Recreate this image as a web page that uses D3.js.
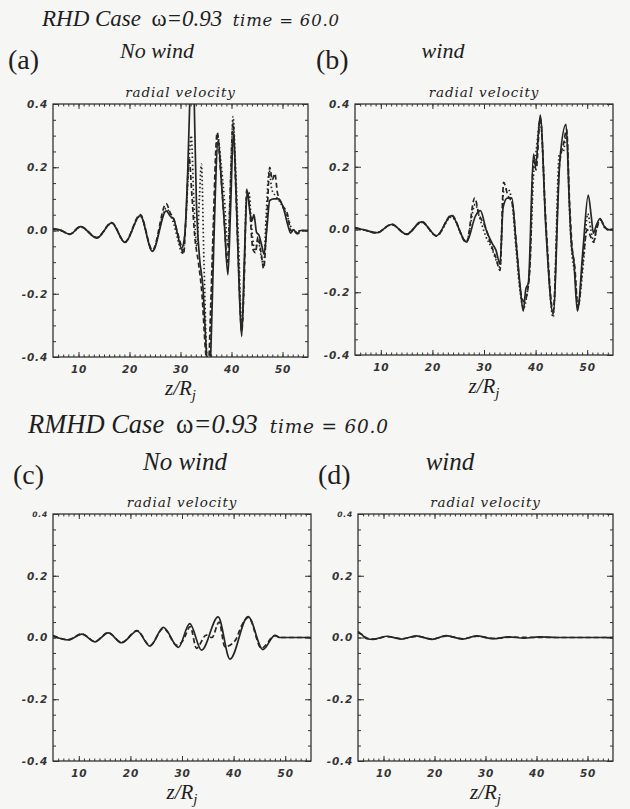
<!DOCTYPE html>
<html>
<head>
<meta charset="utf-8">
<script src="https://cdn.jsdelivr.net/npm/d3@7"></script>
<style>
  body { margin: 0; background: #f6f6f4; }
  svg { display: block; }
  .tick text { font-family: "DejaVu Sans"; font-weight: bold; font-style: oblique; font-size: 10.5px; fill: #333; letter-spacing: 0.8px; }
  .serif { font-family: "Liberation Serif"; font-style: italic; fill: #1e1e1e; }
</style>
</head>
<body>
<div id="chart"></div>
<script>
// axis ticks
const zTicks = [10, 20, 30, 40, 50];
const vTicks = [-0.4, -0.2, 0.0, 0.2, 0.4];
const vLabels = ["-0.4", "-0.2", "0.0", "0.2", "0.4"];

// (a) RHD, no wind : [z, radial velocity]
const solidA = [[5,0.005],[6.5,0.001],[8.3,-0.012],[10.4,0.012],[13.6,-0.024],[16.5,0.024],[19.1,-0.038],[22.1,0.047],[24.5,-0.066],[27.2,0.062],[28.0,0.045],[28.7,0.035],[29.4,-0.01],[30.2,-0.056],[30.8,-0.02],[31.4,0.18],[31.9,0.45],[32.3,0.6],[32.7,0.4],[33.1,0.1],[33.7,-0.08],[34.4,-0.18],[35.0,-0.36],[35.6,-0.5],[36.1,-0.3],[36.5,-0.06],[37.4,0.285],[38.0,0.16],[38.6,0.02],[39.3,-0.14],[39.8,0.06],[40.4,0.31],[40.9,0.12],[41.5,-0.18],[42.0,-0.335],[42.5,-0.1],[43.1,0.125],[43.6,0.06],[44.0,0.03],[44.4,0.05],[44.9,-0.005],[45.4,-0.015],[45.9,-0.045],[46.4,-0.075],[46.9,0.0],[47.5,0.095],[48.3,0.1],[49.2,0.1],[50.2,0.07],[51.0,0.02],[51.6,-0.008],[52.2,0.003],[52.8,-0.01],[53.6,0.0],[55,0.0]];
const dashedA = [[5,0.006],[6.5,0.0],[8.3,-0.011],[10.4,0.013],[13.6,-0.022],[16.5,0.025],[19.1,-0.036],[22.1,0.05],[24.5,-0.062],[27.2,0.085],[28.0,0.055],[28.6,0.04],[29.3,0.0],[30.0,-0.04],[30.6,-0.075],[31.1,0.05],[31.7,0.23],[32.2,0.12],[32.8,-0.02],[33.5,-0.1],[34.2,-0.2],[34.9,-0.38],[35.4,-0.45],[35.9,-0.25],[36.3,-0.05],[37.2,0.31],[37.8,0.2],[38.5,0.05],[39.2,-0.1],[39.7,0.1],[40.3,0.34],[40.8,0.15],[41.4,-0.12],[42.0,-0.32],[42.5,-0.15],[43.0,0.13],[43.5,0.08],[44.2,-0.06],[44.7,-0.07],[45.2,-0.02],[45.8,-0.07],[46.3,-0.12],[46.9,0.02],[47.5,0.2],[48.0,0.16],[48.5,0.18],[49.0,0.12],[50.0,0.08],[51.0,0.05],[51.6,0.0],[52.3,0.0],[53.0,-0.01],[53.8,0.0],[55,0.0]];
const dotA = [[5,0.004],[6.5,0.0],[8.3,-0.012],[10.4,0.011],[13.6,-0.023],[16.5,0.023],[19.1,-0.037],[22.1,0.046],[24.5,-0.064],[27.2,0.07],[28.0,0.05],[28.7,0.02],[29.5,-0.03],[30.3,-0.07],[31.0,0.02],[31.6,0.2],[32.1,0.3],[32.6,0.1],[33.2,-0.05],[33.7,0.1],[34.1,0.21],[34.6,-0.1],[35.2,-0.4],[35.7,-0.42],[36.2,-0.15],[36.6,0.05],[37.3,0.3],[37.9,0.22],[38.6,0.1],[39.3,-0.05],[39.9,0.2],[40.3,0.36],[40.8,0.2],[41.4,-0.05],[42.0,-0.3],[42.4,-0.2],[42.9,0.1],[43.4,0.12],[44.0,0.0],[44.6,-0.065],[45.2,-0.03],[45.8,-0.08],[46.3,-0.11],[46.8,0.05],[47.4,0.19],[47.9,0.13],[48.6,0.11],[49.5,0.09],[50.5,0.06],[51.3,0.03],[51.9,0.0],[52.6,-0.005],[53.5,0.0],[55,0.0]];

// (b) RHD, wind
const solidB = [[5,0.005],[6.5,0.0],[9.2,-0.01],[12.1,0.016],[15,-0.015],[17.9,0.024],[20.8,-0.02],[23.7,0.044],[26.6,-0.04],[28.4,0.045],[29.3,0.06],[30.4,0.0],[31.6,-0.045],[32.3,-0.065],[33.1,-0.11],[33.7,0.07],[34.5,0.1],[35.4,0.1],[36.2,-0.04],[37.0,-0.18],[37.6,-0.26],[38.1,-0.19],[38.6,-0.17],[39.6,0.24],[40.0,0.2],[40.9,0.365],[42.0,0.0],[43.4,-0.27],[44.7,0.22],[45.9,0.335],[46.5,0.1],[46.9,-0.04],[47.4,-0.1],[48.1,-0.26],[49.2,-0.06],[50.2,0.11],[50.8,0.04],[51.2,-0.012],[51.8,0.015],[52.5,0.035],[53.3,0.01],[54.0,0.0],[55,0.0]];
const dashedB = [[5,0.006],[6.5,0.0],[9.2,-0.011],[12.1,0.017],[15,-0.016],[17.9,0.026],[20.8,-0.021],[23.7,0.046],[26.6,-0.042],[28.2,0.1],[29.0,0.05],[30.2,0.01],[31.4,-0.05],[32.3,-0.09],[33.1,-0.13],[33.8,0.15],[34.6,0.11],[35.5,0.08],[36.3,-0.05],[37.1,-0.2],[37.8,-0.23],[38.4,-0.2],[38.9,-0.12],[39.6,0.22],[40.1,0.19],[40.9,0.355],[42.0,0.02],[43.4,-0.26],[44.6,0.2],[45.5,0.28],[46.0,0.32],[46.6,0.08],[47.1,-0.06],[47.6,-0.12],[48.2,-0.25],[49.3,-0.08],[50.0,0.0],[50.6,-0.02],[51.2,-0.04],[51.8,0.0],[52.6,0.03],[53.3,0.01],[54.0,0.0],[55,0.0]];
const dotB = [[5,0.004],[6.5,0.0],[9.2,-0.01],[12.1,0.015],[15,-0.014],[17.9,0.023],[20.8,-0.02],[23.7,0.04],[26.6,-0.038],[28.3,0.08],[29.1,0.04],[30.3,-0.02],[31.5,-0.06],[32.4,-0.1],[33.1,-0.12],[33.8,0.12],[34.6,0.13],[35.4,0.09],[36.2,-0.06],[37.0,-0.2],[37.7,-0.25],[38.3,-0.21],[38.8,-0.14],[39.7,0.2],[40.1,0.25],[40.9,0.35],[42.0,0.01],[43.4,-0.28],[44.6,0.24],[45.4,0.25],[46.0,0.31],[46.6,0.05],[47.0,-0.07],[47.6,-0.14],[48.2,-0.24],[49.3,-0.1],[50.1,0.05],[50.7,0.0],[51.3,-0.04],[51.9,0.01],[52.6,0.03],[53.4,0.005],[54.0,0.0],[55,0.0]];

// (c) RMHD, no wind
const solidC = [[5,0.005],[8,-0.008],[10.6,0.011],[13.1,-0.014],[15.7,0.015],[18.3,-0.017],[21.3,0.021],[23.8,-0.028],[26.4,0.033],[29.3,-0.032],[31.5,0.045],[33.8,-0.041],[37.0,0.067],[39.3,-0.07],[42.8,0.068],[45.7,-0.039],[48.0,0.007],[49.0,0.0],[55,0.0]];
const dashedC = [[5,0.006],[8,-0.007],[10.6,0.012],[13.1,-0.013],[15.7,0.016],[18.3,-0.016],[21.3,0.022],[23.8,-0.026],[26.4,0.03],[29.0,-0.025],[30.2,-0.01],[31.6,0.035],[32.8,-0.035],[34.7,0.008],[35.8,0.0],[37.2,0.05],[38.3,-0.03],[40.3,-0.01],[41.6,0.04],[42.9,0.065],[45.4,-0.035],[48.0,0.006],[49.0,0.0],[55,0.0]];

// (d) RMHD, wind
const solidD = [[5,0.015],[5.6,0.011],[6.7,-0.004],[8.0,-0.006],[10.6,0.004],[13.5,-0.005],[16.4,0.005],[19.5,-0.006],[22.3,0.006],[25.5,-0.005],[28.2,0.005],[31.5,-0.004],[34.5,0.002],[37.5,-0.002],[40.5,0.002],[44.0,0.0],[55,0.0]];
const dashedD = [[5,0.02],[5.8,0.009],[6.9,-0.003],[8.1,-0.005],[10.8,0.003],[13.6,-0.004],[16.5,0.004],[19.6,-0.005],[22.4,0.005],[25.6,-0.004],[28.4,0.004],[31.6,-0.003],[35.0,0.001],[40.0,0.0],[55,0.0]];

const styles = ["none", "5,3", "1.5,2.5"];

const W = 630, H = 809;
const svg = d3.select("#chart").append("svg")
    .attr("width", W)
    .attr("height", H);

const panels = [
  { id: "a", x0: 53, x1: 308, y0: 104, y1: 357, series: [solidA, dashedA, dotA], small: false },
  { id: "b", x0: 355, x1: 613, y0: 104, y1: 355, series: [solidB, dashedB, dotB], small: false },
  { id: "c", x0: 53, x1: 311, y0: 514, y1: 761, series: [solidC, dashedC], small: true },
  { id: "d", x0: 358, x1: 613, y0: 514, y1: 761, series: [solidD, dashedD], small: true }
];

panels.forEach(p => {
  const x = d3.scaleLinear().domain([5, 55]).range([p.x0, p.x1]);
  const y = d3.scaleLinear().domain([-0.4, 0.4]).range([p.y1, p.y0]);
  const g = svg.append("g");

  g.append("clipPath").attr("id", "clip-" + p.id)
    .append("rect")
    .attr("x", p.x0).attr("y", p.y0)
    .attr("width", p.x1 - p.x0).attr("height", p.y1 - p.y0);

  // minor ticks, inward on all four sides
  const zMinor = d3.range(6, 55, 1);
  const vMinor = d3.range(-0.35, 0.4, 0.05);
  g.append("g").attr("transform", `translate(0,${p.y1})`)
    .call(d3.axisBottom(x).tickValues(zMinor).tickSize(-2.5).tickFormat(""));
  g.append("g").attr("transform", `translate(0,${p.y0})`)
    .call(d3.axisTop(x).tickValues(zMinor).tickSize(-2.5).tickFormat(""));
  g.append("g").attr("transform", `translate(${p.x0},0)`)
    .call(d3.axisLeft(y).tickValues(vMinor).tickSize(-3).tickFormat(""));
  g.append("g").attr("transform", `translate(${p.x1},0)`)
    .call(d3.axisRight(y).tickValues(vMinor).tickSize(-3).tickFormat(""));

  // major ticks
  g.append("g").attr("transform", `translate(0,${p.y1})`)
    .call(d3.axisBottom(x).tickValues(zTicks).tickSize(-5).tickPadding(9).tickFormat(d3.format("d")));
  g.append("g").attr("transform", `translate(0,${p.y0})`)
    .call(d3.axisTop(x).tickValues(zTicks).tickSize(-5).tickFormat(""));
  g.append("g").attr("transform", `translate(${p.x0},0)`)
    .call(d3.axisLeft(y).tickValues(vTicks).tickSize(-6).tickPadding(5)
      .tickFormat((d, i) => vLabels[i]));
  g.append("g").attr("transform", `translate(${p.x1},0)`)
    .call(d3.axisRight(y).tickValues(vTicks).tickSize(-6).tickFormat(""));

  g.selectAll(".domain").remove();
  g.selectAll(".tick line").attr("stroke", "#333").attr("stroke-width", 1);
  if (p.small) {
    g.selectAll(".tick text").filter(d => d === 0.4).style("font-size", "7.5px");
  }

  g.append("rect")
    .attr("x", p.x0).attr("y", p.y0)
    .attr("width", p.x1 - p.x0).attr("height", p.y1 - p.y0)
    .attr("fill", "none").attr("stroke", "#333").attr("stroke-width", 1.3);

  const line = d3.line()
    .x(d => x(d[0]))
    .y(d => y(d[1]))
    .curve(d3.curveMonotoneX);

  g.append("g").attr("clip-path", `url(#clip-${p.id})`)
    .selectAll("path")
    .data(p.series)
    .join("path")
    .attr("d", line)
    .attr("fill", "none")
    .attr("stroke", "#262626")
    .attr("stroke-width", 1.7)
    .attr("stroke-dasharray", (d, i) => styles[i]);

  // panel title and x label
  const cx = (p.x0 + p.x1) / 2;
  g.append("text")
    .attr("x", cx).attr("y", p.y0 - 7)
    .attr("text-anchor", "middle")
    .style("font-family", "DejaVu Serif").style("font-style", "italic")
    .style("font-size", "13.5px").style("letter-spacing", "0.9px")
    .attr("fill", "#222")
    .text("radial velocity");

  const xl = g.append("text")
    .attr("class", "serif")
    .attr("x", cx).attr("y", p.y1 + 38)
    .attr("text-anchor", "middle")
    .style("font-size", "21px");
  xl.append("tspan").text("z/R");
  xl.append("tspan").attr("dy", 5).style("font-size", "15px").text("j");
});

// headings
function heading(yb, x0, name, big, small) {
  const t = svg.append("text").attr("class", "serif").attr("y", yb);
  t.append("tspan").attr("x", x0).style("font-size", big + "px").text(name + " Case");
  t.append("tspan").attr("dx", big * 0.45).style("font-size", big + "px")
    .style("font-style", "normal").text("ω");
  t.append("tspan").style("font-size", big + "px").text("=0.93");
  t.append("tspan").attr("dx", big * 0.45)
    .style("font-family", "DejaVu Serif").style("font-size", small + "px")
    .style("letter-spacing", "0.8px")
    .text("time = 60.0");
}
heading(26, 42, "RHD", 23, 16.5);
heading(433, 28, "RMHD", 26.5, 18.5);

const subtitles = [
  { lab: "(a)", lx: 8, ly: 69, txt: "No wind", tx: 157, ty: 58, fs: 22 },
  { lab: "(b)", lx: 316, ly: 69, txt: "wind", tx: 443, ty: 58, fs: 22 },
  { lab: "(c)", lx: 13, ly: 484, txt: "No wind", tx: 185, ty: 470, fs: 25 },
  { lab: "(d)", lx: 318, ly: 484, txt: "wind", tx: 450, ty: 470, fs: 25 }
];
subtitles.forEach(s => {
  svg.append("text")
    .attr("x", s.lx).attr("y", s.ly)
    .style("font-family", "Liberation Serif").style("font-size", "28px")
    .attr("fill", "#1e1e1e")
    .text(s.lab);
  svg.append("text").attr("class", "serif")
    .attr("x", s.tx).attr("y", s.ty)
    .attr("text-anchor", "middle")
    .style("font-size", s.fs + "px")
    .text(s.txt);
});
</script>
</body>
</html>
